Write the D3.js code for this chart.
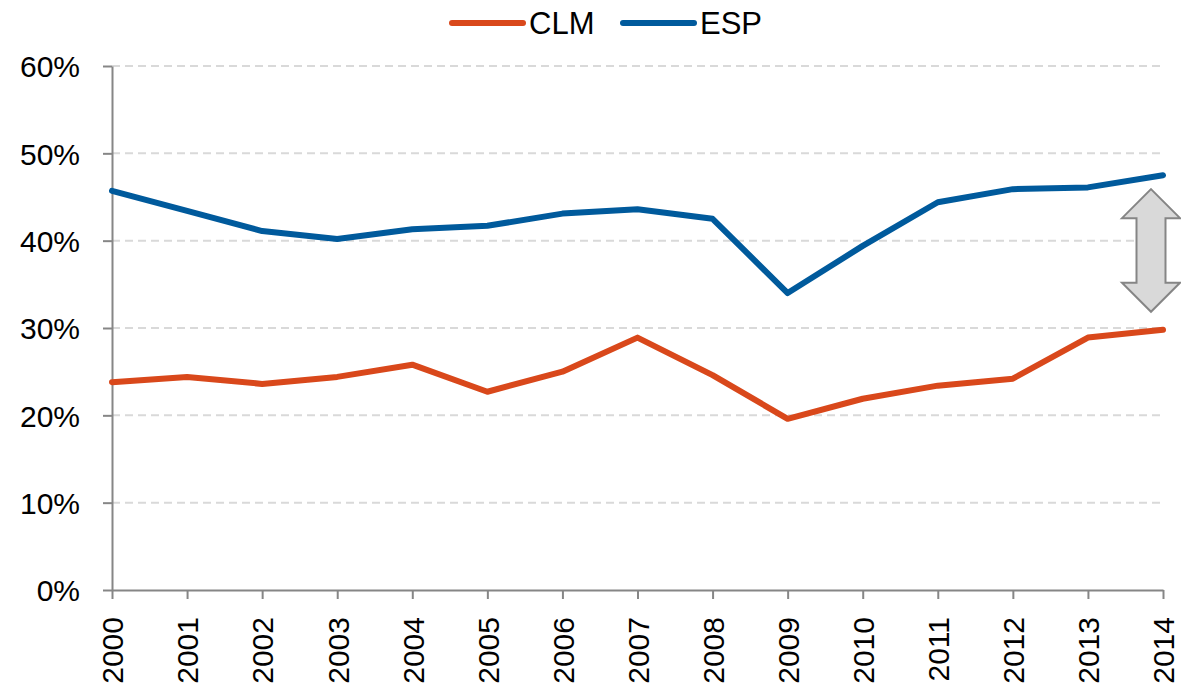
<!DOCTYPE html>
<html>
<head>
<meta charset="utf-8">
<script src="https://cdn.jsdelivr.net/npm/d3@7"></script>
<style>
  body { margin: 0; background: #fff; }
  svg text { font-family: "Liberation Sans", Arial, sans-serif; fill: #000; }
</style>
</head>
<body>
<div id="chart"></div>
<script>
years = [2000, 2001, 2002, 2003, 2004, 2005, 2006, 2007, 2008, 2009, 2010, 2011, 2012, 2013, 2014]
clmValues = [23.8, 24.4, 23.6, 24.4, 25.8, 22.7, 25.0, 28.9, 24.6, 19.6, 21.9, 23.4, 24.2, 28.9, 29.8]
espValues = [45.7, 43.4, 41.1, 40.2, 41.3, 41.7, 43.1, 43.6, 42.5, 34.0, 39.4, 44.4, 45.9, 46.1, 47.5]
yTicks = [0, 10, 20, 30, 40, 50, 60]
seriesNames = ["CLM", "ESP"]
seriesColors = ["#D9481B", "#005A9C"]

const width = 1181, height = 687
const margin = { top: 66, right: 18, bottom: 97, left: 112 }

const svg = d3.select("#chart").append("svg")
    .attr("width", width)
    .attr("height", height)

const x = d3.scalePoint()
    .domain(years)
    .range([margin.left, width - margin.right])

const y = d3.scaleLinear()
    .domain([0, 60])
    .range([height - margin.bottom, margin.top])

// gridlines
svg.append("g")
    .selectAll("line")
    .data(yTicks.filter(d => d > 0))
    .join("line")
    .attr("x1", margin.left)
    .attr("x2", width - margin.right)
    .attr("y1", d => y(d))
    .attr("y2", d => y(d))
    .attr("stroke", "#D9D9D9")
    .attr("stroke-width", 2)
    .attr("stroke-dasharray", "8,5")

// y axis
const yAxis = svg.append("g")
    .attr("transform", `translate(${margin.left},0)`)
    .call(d3.axisLeft(y).tickValues(yTicks).tickFormat(d => d + "%").tickSize(9).tickSizeOuter(0))
yAxis.select(".domain").attr("stroke", "#868686").attr("stroke-width", 2)
yAxis.selectAll(".tick line").attr("stroke", "#868686").attr("stroke-width", 2)
yAxis.selectAll(".tick text")
    .attr("x", -32)
    .attr("dy", "0.36em")
    .style("font-size", "30px")
    .attr("fill", "#000")

// x axis
const xAxis = svg.append("g")
    .attr("transform", `translate(0,${y(0)})`)
    .call(d3.axisBottom(x).tickSize(9).tickSizeOuter(0))
xAxis.select(".domain").attr("stroke", "#868686").attr("stroke-width", 2)
xAxis.selectAll(".tick line").attr("stroke", "#868686").attr("stroke-width", 2)
xAxis.selectAll(".tick text")
    .attr("transform", "rotate(-90)")
    .attr("x", -27)
    .attr("y", 0)
    .attr("dy", "0.36em")
    .attr("text-anchor", "end")
    .style("font-size", "30px")
    .attr("fill", "#000")

// lines
const line = d3.line()
    .x((d, i) => x(years[i]))
    .y(d => y(d))

svg.append("g")
    .selectAll("path")
    .data([clmValues, espValues])
    .join("path")
    .attr("d", d => line(d))
    .attr("fill", "none")
    .attr("stroke", (d, i) => seriesColors[i])
    .attr("stroke-width", 6)
    .attr("stroke-linejoin", "round")
    .attr("stroke-linecap", "round")

// double arrow between the two series at the end
const ax = x(2014) - 12
const aTop = y(espValues[espValues.length - 1]) + 14
const aBot = y(clmValues[clmValues.length - 1]) - 18
const headH = 29, headW = 29, shaftW = 14.5
const arrowPts = [
    [ax, aTop], [ax + headW, aTop + headH], [ax + shaftW, aTop + headH],
    [ax + shaftW, aBot - headH], [ax + headW, aBot - headH], [ax, aBot],
    [ax - headW, aBot - headH], [ax - shaftW, aBot - headH],
    [ax - shaftW, aTop + headH], [ax - headW, aTop + headH]
]
svg.append("polygon")
    .attr("points", arrowPts.map(p => p.join(",")).join(" "))
    .attr("fill", "#D9D9D9")
    .attr("stroke", "#858585")
    .attr("stroke-width", 2)

// legend
const legend = svg.append("g")
const legendX = [452, 623]
legend.selectAll("line")
    .data(seriesNames)
    .join("line")
    .attr("x1", (d, i) => legendX[i])
    .attr("x2", (d, i) => legendX[i] + 71)
    .attr("y1", 23)
    .attr("y2", 23)
    .attr("stroke", (d, i) => seriesColors[i])
    .attr("stroke-width", 6)
    .attr("stroke-linecap", "round")
legend.selectAll("text")
    .data(seriesNames)
    .join("text")
    .attr("x", (d, i) => legendX[i] + 77)
    .attr("y", 34)
    .style("font-size", "31px")
    .text(d => d)
</script>
</body>
</html>
